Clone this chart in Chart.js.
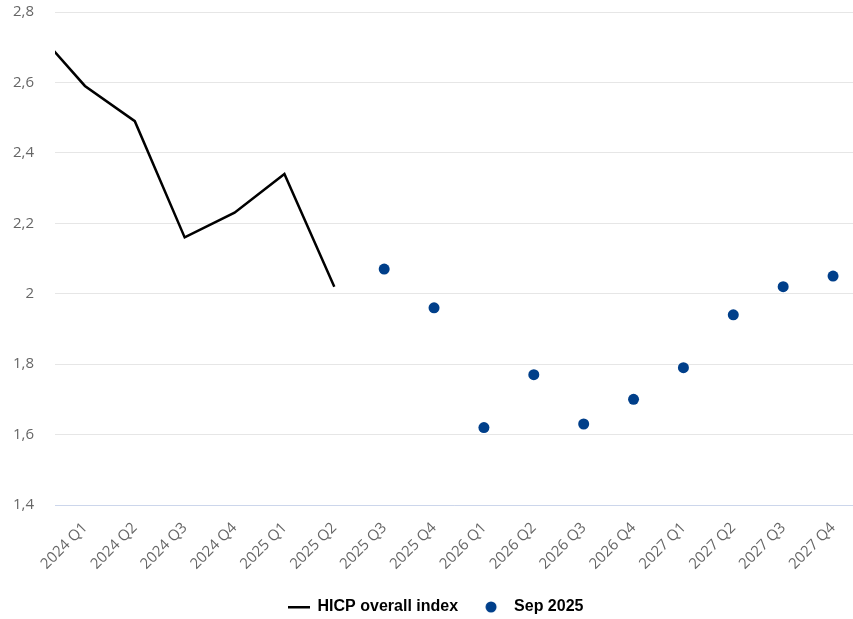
<!DOCTYPE html>
<html>
<head>
<meta charset="utf-8">
<script src="https://cdn.jsdelivr.net/npm/chart.js@4/dist/chart.umd.min.js"></script>
<style>
  html, body { margin: 0; padding: 0; background: #fff; }
  #wrap { position: relative; width: 853px; height: 619px; }
</style>
</head>
<body>
<div id="wrap"><canvas id="c"></canvas></div>
<script>
// ---- data ----
const quarters = ['2024 Q1','2024 Q2','2024 Q3','2024 Q4','2025 Q1','2025 Q2','2025 Q3','2025 Q4',
                  '2026 Q1','2026 Q2','2026 Q3','2026 Q4','2027 Q1','2027 Q2','2027 Q3','2027 Q4'];
const hicpQuarters = ['2023 Q4','2024 Q1','2024 Q2','2024 Q3','2024 Q4','2025 Q1','2025 Q2'];
const hicpValues = [2.75, 2.59, 2.49, 2.16, 2.23, 2.34, 2.02];
const projQuarters = ['2025 Q3','2025 Q4','2026 Q1','2026 Q2','2026 Q3','2026 Q4','2027 Q1','2027 Q2','2027 Q3','2027 Q4'];
const projValues = [2.07, 1.96, 1.62, 1.77, 1.63, 1.70, 1.79, 1.94, 2.02, 2.05];
const yTicks = [1.4, 1.6, 1.8, 2.0, 2.2, 2.4, 2.6, 2.8];
const seriesNames = ['HICP overall index', 'Sep 2025'];

const allQuarters = ['2023 Q4'].concat(quarters);
const pos = q => allQuarters.indexOf(q) - 1;

const lineColor = '#000000';
const dotColor = '#003f8a';

function lineIcon() {
  const c = document.createElement('canvas');
  c.width = 22; c.height = 4;
  const g = c.getContext('2d');
  g.fillStyle = lineColor;
  g.fillRect(0, 1, 22, 2.5);
  return c;
}
function dotIcon() {
  const c = document.createElement('canvas');
  c.width = 20; c.height = 12;
  const g = c.getContext('2d');
  g.fillStyle = dotColor;
  g.beginPath(); g.arc(6, 6, 5.5, 0, Math.PI * 2); g.fill();
  return c;
}
const icons = [lineIcon(), dotIcon()];

const legendShift = {
  id: 'legendShift',
  afterLayout(chart) {
    const lg = chart.legend;
    if (lg) { lg.left += 9; lg.right += 9; }
  }
};

new Chart(document.getElementById('c'), {
  type: 'line',
  plugins: [legendShift],
  data: {
    datasets: [
      {
        label: seriesNames[0],
        data: hicpQuarters.map((q, i) => ({ x: pos(q), y: hicpValues[i] })),
        borderColor: lineColor,
        backgroundColor: lineColor,
        borderWidth: 2.5,
        pointRadius: 0,
        tension: 0,
        clip: 0
      },
      {
        label: seriesNames[1],
        data: projQuarters.map((q, i) => ({ x: pos(q), y: projValues[i] })),
        showLine: false,
        pointRadius: 5.5,
        pointHoverRadius: 5.5,
        pointBackgroundColor: dotColor,
        pointBorderColor: dotColor,
        pointBorderWidth: 0,
        backgroundColor: dotColor,
        borderColor: dotColor,
        clip: false
      }
    ]
  },
  options: {
    responsive: true,
    maintainAspectRatio: false,
    animation: false,
    layout: { autoPadding: false, padding: { top: 12, right: 0, left: 0, bottom: -6 } },
    scales: {
      x: {
        type: 'linear',
        min: -0.6,
        max: 15.4,
        afterBuildTicks: s => { s.ticks = quarters.map((q, i) => ({ value: i })); },
        afterFit: s => { s.height = 68; s.paddingLeft = 0; s.paddingRight = 0; },
        grid: { display: true, drawOnChartArea: false, drawTicks: true, tickLength: 14, tickColor: 'rgba(0,0,0,0)' },
        border: { display: true, color: '#ccd6eb', width: 1 },
        ticks: {
          autoSkip: false,
          minRotation: 45,
          maxRotation: 45,
          padding: 0,
          color: '#666666',
          font: { family: '"Open Sans", sans-serif', size: 15 },
          callback: v => quarters[v]
        }
      },
      y: {
        min: 1.4,
        max: 2.8,
        afterBuildTicks: s => { s.ticks = yTicks.map(v => ({ value: v })); },
        afterFit: s => { s.width = 55; },
        grid: { color: '#e6e6e6', drawTicks: true, tickLength: 21, tickColor: 'rgba(0,0,0,0)', lineWidth: 1 },
        border: { display: false },
        ticks: {
          padding: 0,
          color: '#666666',
          font: { family: '"Open Sans", sans-serif', size: 15 },
          callback: v => String(Number(v.toFixed(1))).replace('.', ',')
        }
      }
    },
    plugins: {
      tooltip: { enabled: false },
      legend: {
        position: 'bottom',
        labels: {
          usePointStyle: true,
          pointStyleWidth: 22,
          padding: 26,
          color: '#222222',
          font: { family: '"Liberation Sans", Arial, sans-serif', size: 16, weight: 'bold' },
          generateLabels: chart => chart.data.datasets.map((d, i) => ({
            text: d.label,
            pointStyle: icons[i],
            fillStyle: d.backgroundColor,
            strokeStyle: d.borderColor,
            lineWidth: 0,
            hidden: false,
            datasetIndex: i
          }))
        }
      }
    }
  }
});
</script>
</body>
</html>
